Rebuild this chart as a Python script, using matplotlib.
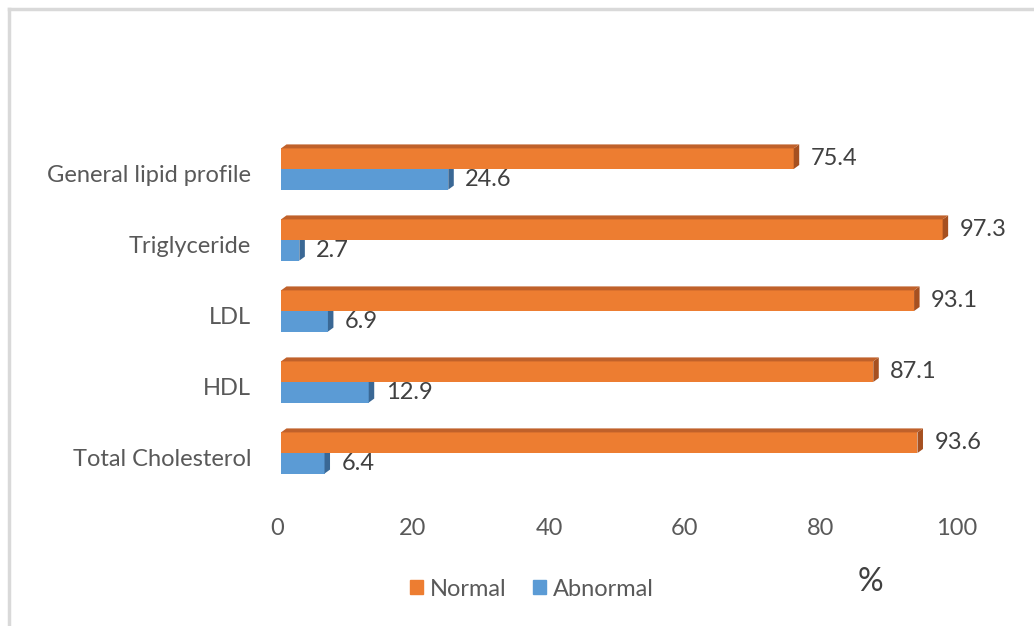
import numpy as np
import matplotlib.pyplot as plt
from matplotlib.lines import Line2D
from matplotlib.transforms import ScaledTranslation

plt.rcParams['font.family'] = ['Lato', 'DejaVu Sans']

# Data (bottom to top)
categories = ['Total Cholesterol', 'HDL', 'LDL', 'Triglyceride', 'General lipid profile']
normal = [93.6, 87.1, 93.1, 97.3, 75.4]
abnormal = [6.4, 12.9, 6.9, 2.7, 24.6]

orange = '#ED7D31'
orange_top = '#C0612A'
orange_side = '#A65020'
blue = '#5B9BD5'
blue_side = '#3A6895'
text_col = '#404040'
tick_col = '#595959'
fs = 17

fig = plt.figure(figsize=(10.34, 6.26), dpi=100)
ax = fig.add_axes([281 / 1034, (626 - 488.5) / 626, 680 / 1034, 355 / 626])

y = np.arange(len(categories))
h = 0.29
# depth of the fake 3D effect, in data units
dx = 5.5 / 6.8
dy = 4 / 71.0


def bar3d(vals, yc, front, side, top=None):
    ax.barh(yc, vals, height=h, color=front, zorder=2)
    for v, c in zip(vals, yc):
        y0, y1 = c - h / 2, c + h / 2
        ax.fill([v, v + dx, v + dx, v], [y0, y0 + dy, y1 + dy, y1],
                color=side, lw=0, zorder=2)
        if top is not None:
            ax.fill([0, dx, v + dx, v], [y1, y1 + dy, y1 + dy, y1],
                    color=top, lw=0, zorder=2)


bar3d(abnormal, y - h / 2, blue, blue_side)
bar3d(normal, y + h / 2, orange, orange_side, orange_top)

for v, c in zip(normal, y + h / 2):
    ax.annotate(f'{v}', (v, c), xytext=(17, 0), textcoords='offset pixels',
                ha='left', va='center', fontsize=fs, color=text_col)
for v, c in zip(abnormal, y - h / 2):
    ax.annotate(f'{v}', (v, c), xytext=(17, 0), textcoords='offset pixels',
                ha='left', va='center', fontsize=fs, color=text_col)

ax.set_xlim(0, 100)
ax.set_ylim(-0.5, 4.5)
ax.set_xticks([0, 20, 40, 60, 80, 100])
ax.set_yticks(y - 0.06)
ax.set_yticklabels(categories)
ax.tick_params(axis='x', length=0, pad=21, labelsize=fs, labelcolor=tick_col)
ax.tick_params(axis='y', length=0, pad=21.5, labelsize=fs, labelcolor=tick_col)
shift = ScaledTranslation(-4 / 100, 0, fig.dpi_scale_trans)
for lab in ax.get_xticklabels():
    lab.set_transform(lab.get_transform() + shift)
for s in ax.spines.values():
    s.set_visible(False)

handles = [plt.Rectangle((0, 0), 1, 1, color=orange), plt.Rectangle((0, 0), 1, 1, color=blue)]
fig.legend(handles, ['Normal', 'Abnormal'], loc='center', bbox_to_anchor=(532 / 1034, 1 - 589 / 626),
           ncol=2, frameon=False, fontsize=fs, labelcolor=tick_col,
           handlelength=0.55, handleheight=0.55, handletextpad=0.3, columnspacing=1.1)
fig.text(870 / 1034, 1 - 582 / 626, '%', fontsize=23, color=text_col, ha='center', va='center')

# outer frame (left and top edges visible)
fig.add_artist(Line2D([9 / 1034, 9 / 1034], [0, 1 - 9 / 626], color='#D9D9D9', lw=2.5))
fig.add_artist(Line2D([9 / 1034, 1], [1 - 9 / 626, 1 - 9 / 626], color='#D9D9D9', lw=2.5))

fig.savefig('out.png', dpi=100)
